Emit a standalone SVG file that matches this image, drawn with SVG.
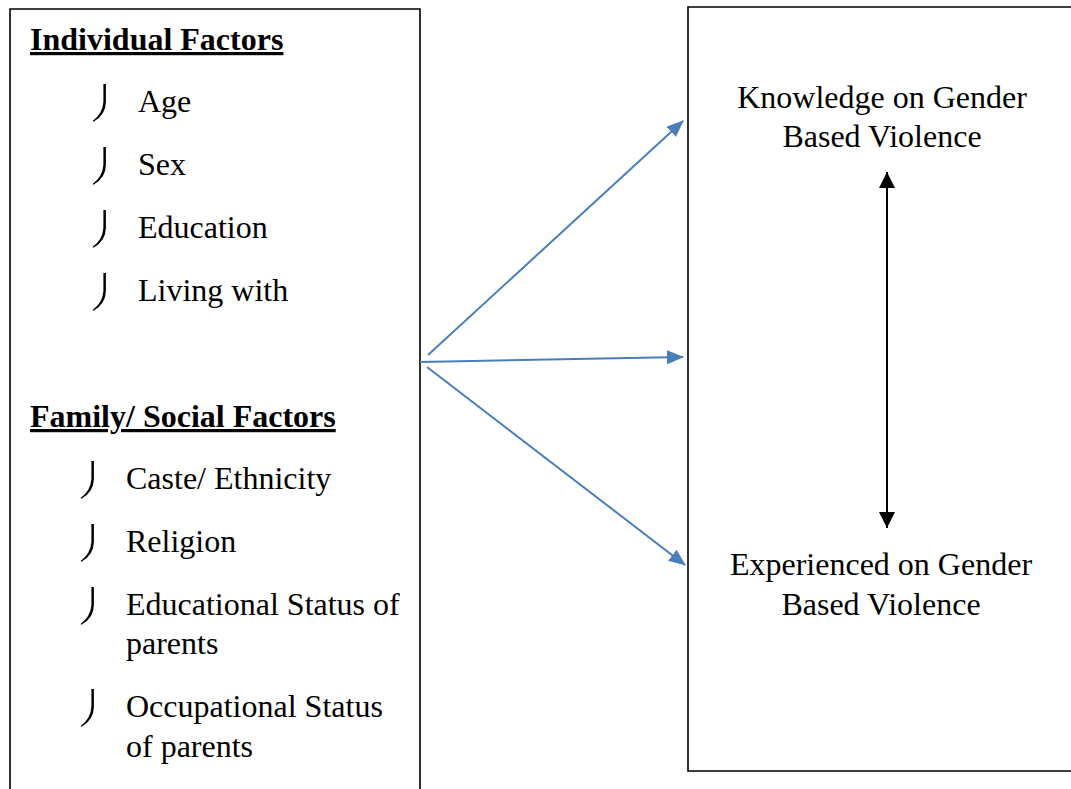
<svg xmlns="http://www.w3.org/2000/svg" width="1071" height="789" viewBox="0 0 1071 789">
  <style>
    .box { fill: #ffffff; stroke: #000000; stroke-width: 1.6; }
    .t { font-family: "Liberation Serif", "Times New Roman", serif; font-size: 32px; fill: #000000; }
    .h { font-family: "Liberation Serif", "Times New Roman", serif; font-size: 32px; font-weight: bold; fill: #000000; text-decoration: underline; }
    .c { text-anchor: middle; }
    .blue { stroke: #4a7ebb; stroke-width: 2; fill: none; }
    .blk { stroke: #000000; stroke-width: 2; fill: none; }
    .bul { fill: #000000; }
  </style>
  <defs>
    <marker id="ab" markerUnits="userSpaceOnUse" markerWidth="18" markerHeight="14" refX="16" refY="7" orient="auto">
      <path d="M0,0 L17,7 L0,14 Z" fill="#4a7ebb"/>
    </marker>
    <marker id="ak" markerUnits="userSpaceOnUse" markerWidth="18" markerHeight="16" refX="16" refY="8" orient="auto-start-reverse">
      <path d="M0,0 L16,8 L0,16 Z" fill="#000000"/>
    </marker>
    <path id="bullet" class="bul" d="M-1.6,-28 L0.9,-28 L0.9,-10 Q0.7,3 -11.5,9.8 L-12.4,9 Q-2.4,1.5 -1.6,-10 Z"/>
  </defs>

  <rect width="1071" height="789" fill="#ffffff"/>

  <g id="left-box">
    <path class="box" d="M10,800 L10,9 L420,9 L420,800"/>
    <text class="h" x="30" y="50">Individual Factors</text>
    <use href="#bullet" x="105" y="112"/>
    <text class="t" x="138" y="112">Age</text>
    <use href="#bullet" x="105" y="175"/>
    <text class="t" x="138" y="175">Sex</text>
    <use href="#bullet" x="105" y="238"/>
    <text class="t" x="138" y="238">Education</text>
    <use href="#bullet" x="105" y="301"/>
    <text class="t" x="138" y="301">Living with</text>

    <text class="h" x="30" y="427">Family/ Social Factors</text>
    <use href="#bullet" x="93" y="489"/>
    <text class="t" x="126" y="489">Caste/ Ethnicity</text>
    <use href="#bullet" x="93" y="552"/>
    <text class="t" x="126" y="552">Religion</text>
    <use href="#bullet" x="93" y="615"/>
    <text class="t" x="126" y="615">Educational Status of</text>
    <text class="t" x="126" y="654">parents</text>
    <use href="#bullet" x="93" y="717"/>
    <text class="t" x="126" y="717">Occupational Status</text>
    <text class="t" x="126" y="757">of parents</text>
  </g>

  <g id="right-box">
    <path class="box" d="M1080,7 L688,7 L688,771 L1080,771"/>
    <text class="t c" x="882" y="108">Knowledge on Gender</text>
    <text class="t c" x="882" y="147">Based Violence</text>
    <text class="t c" x="881" y="575">Experienced on Gender</text>
    <text class="t c" x="881" y="615">Based Violence</text>
  </g>

  <g id="connectors">
    <line class="blue" x1="428" y1="355" x2="683" y2="121" marker-end="url(#ab)"/>
    <line class="blue" x1="420" y1="362" x2="683" y2="357" marker-end="url(#ab)"/>
    <line class="blue" x1="427" y1="367" x2="685" y2="565" marker-end="url(#ab)"/>
    <line class="blk" x1="887" y1="172" x2="887" y2="528" marker-start="url(#ak)" marker-end="url(#ak)"/>
  </g>
</svg>
